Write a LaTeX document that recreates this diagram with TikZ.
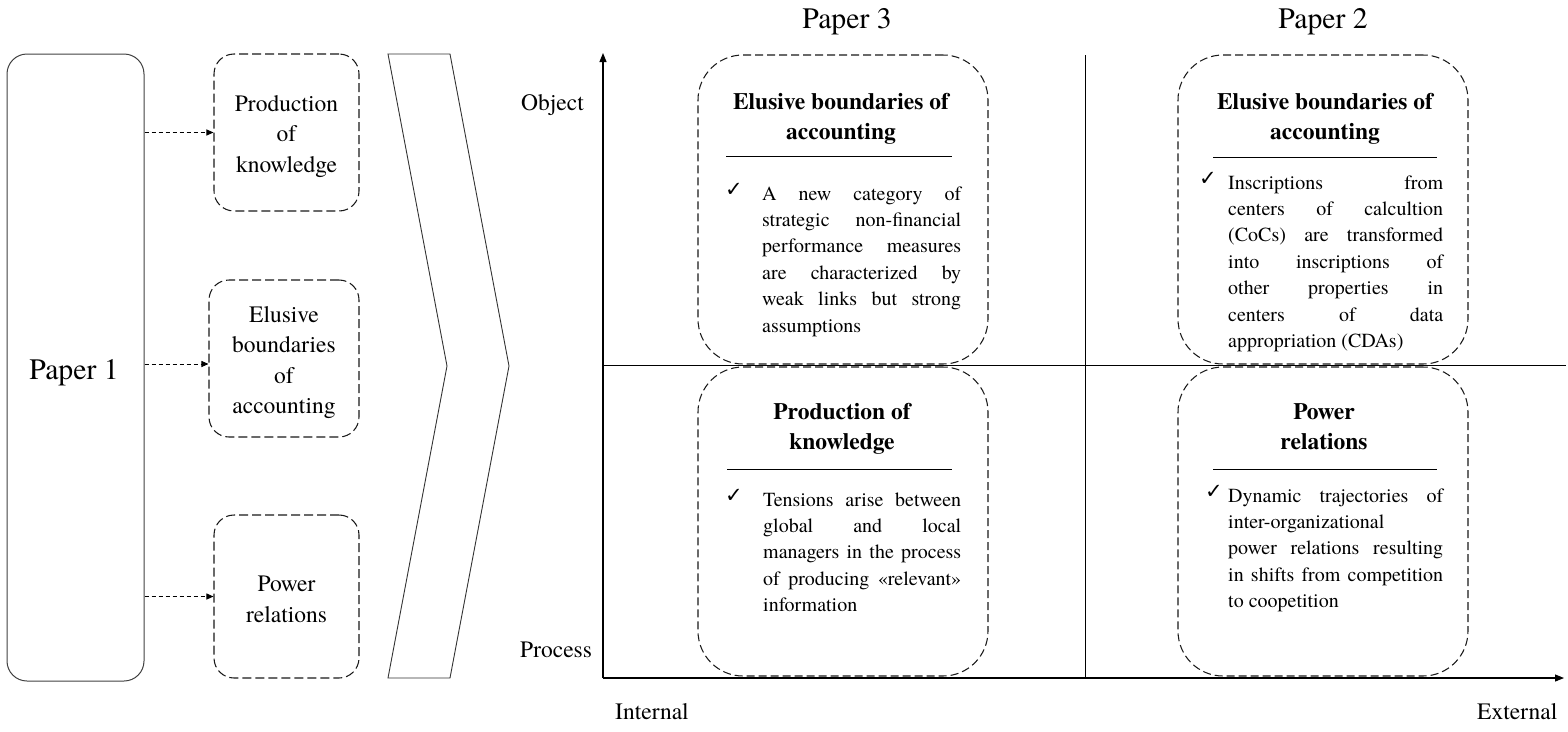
\documentclass[tikz,border=0pt]{standalone}
\usepackage{fontspec}
\setmainfont{TeX Gyre Termes}
\newfontfamily\checkfont{DejaVu Sans}
\usetikzlibrary{positioning,arrows.meta}
\tikzset{
  paper box/.style={
    draw=black!75,
    line width=1pt,
    rounded corners=20pt,
    minimum width=137pt,
    minimum height=627pt,
  },
  topic box/.style={
    draw=black!90,
    line width=1.05pt,
    dash pattern=on 9pt off 4pt,
    rounded corners=20pt,
    inner sep=0pt,
  },
  topic text/.style={
    align=center,
    inner sep=0pt,
    font=\fontsize{23.5}{30.5}\selectfont,
  },
  quad box/.style={
    draw=black!90,
    line width=1.05pt,
    dash pattern=on 8pt off 4pt,
    rounded corners=45pt,
    minimum width=290pt,
    minimum height=309pt,
  },
  link/.style={
    line width=0.9pt,
    dash pattern=on 4pt off 3pt,
    -{Triangle[length=7pt,width=6pt]},
  },
  axis/.style={
    line width=1.1pt,
    -{Triangle[length=9pt,width=7pt]},
  },
  title text/.style={
    anchor=base,
    align=center,
    inner sep=0pt,
    font=\fontsize{23.5}{30}\selectfont\bfseries,
  },
  body text/.style={
    anchor=base west,
    align=justify,
    inner sep=0pt,
    font=\fontsize{20}{26.4}\selectfont,
  },
  check sign/.style={
    anchor=base west,
    inner sep=0pt,
    font=\checkfont\fontsize{21}{21}\selectfont,
  },
  axis label/.style={
    anchor=base west,
    inner sep=0pt,
    font=\fontsize{23.5}{28}\selectfont,
  },
  head label/.style={
    anchor=base,
    inner sep=0pt,
    font=\fontsize{29.7}{34}\selectfont,
  },
}

\begin{document}
\begin{tikzpicture}[x=1pt,y=-1pt]
    \useasboundingbox (0,0) rectangle (1568,731);

    % first paper and its three themes
    \node [paper box] (paper1) at (75.5,367.5) {};
    \node [head label] (paper1text) at (74,379) {Paper 1};
    \node [topic box, minimum width=145pt, minimum height=157pt] (prod) at (286.5,132.5) {};
    \node [topic box, minimum width=150pt, minimum height=157pt] (elus) at (284,358.5) {};
    \node [topic box, minimum width=145pt, minimum height=163pt] (powr) at (286.5,596.5) {};
    \node [topic text] (prodtext) at ([yshift=-4pt]prod.center) {Production\\of\\knowledge};
    \node [topic text] (elustext) at ([yshift=-4pt]elus.center) {Elusive\\boundaries\\of\\accounting};
    \node [topic text] (powrtext) at ([yshift=-3pt]powr.center) {Power\\relations};
    \coordinate (elusin) at ([yshift=-5.5pt]elus.west);

    \draw [link] (paper1.east |- prod.west) -- (prod.west);
    \draw [link] (paper1.east |- elusin) -- (elusin);
    \draw [link] (paper1.east |- powr.west) -- (powr.west);

    % chevron
    \draw [line width=0.9pt, black!80] (388,54) -- (450,54) -- (509,366) -- (450,678) -- (388,678) -- (447,366) -- cycle;

    % matrix axes
    \coordinate (origin) at (603,678);
    \coordinate (ytop) at (603,53);
    \coordinate (xend) at (1564,678);
    \draw [axis] (origin) -- (ytop);
    \draw [axis] (origin) -- (xend);
    \draw [line width=1pt] (603,365) -- (1566,365);
    \draw [line width=1pt] (1085,55) -- (1085,678);

    \node [axis label] (obj) at (521,110) {Object};
    \node [axis label] (proc) at (520,657) {Process};
    \node [axis label] (int) at (615,719) {Internal};
    \node [axis label] (ext) at (1477,719) {External};
    \node [head label] (paper3) at (847,28) {Paper 3};
    \node [head label] (paper2) at (1323,28) {Paper 2};

    % quadrants
    \node [quad box] (q1) at (843,209.5) {};
    \node [quad box] (q2) at (1323,209.5) {};
    \node [quad box] (q3) at (843,521.5) {};
    \node [quad box] (q4) at (1323,521.5) {};

    \node [title text] at (841,139) {Elusive boundaries of\\accounting};
    \draw [line width=0.9pt] (726,156) -- (952,156);
    \node [check sign] at (725,196) {✓};
    \node [body text, text width=199pt] at (762,200) {A new category of\linebreak strategic non-financial\linebreak performance measures\linebreak are characterized by\linebreak weak links but strong\linebreak assumptions};

    \node [title text] at (1325,139) {Elusive boundaries of\\accounting};
    \draw [line width=0.9pt] (1213,157) -- (1437,157);
    \node [check sign] at (1199,185) {✓};
    \node [body text, text width=215pt] at (1228,189) {Inscriptions from\linebreak centers of calcultion\linebreak (CoCs) are transformed\linebreak into inscriptions of\linebreak other properties in\linebreak centers of data\linebreak appropriation (CDAs)};

    \node [title text] at (842,449) {Production of\\knowledge};
    \draw [line width=0.9pt] (727,469) -- (952,469);
    \node [check sign] at (725,502) {✓};
    \node [body text, text width=198pt] at (763,506) {Tensions arise between\linebreak global and local\linebreak managers in the process\linebreak of producing «relevant»\linebreak information};

    \node [title text] at (1324,449) {Power\\relations};
    \draw [line width=0.9pt] (1213,469) -- (1437,469);
    \node [check sign] at (1205,498) {✓};
    \node [body text, text width=215pt] at (1228,502) {Dynamic trajectories of\linebreak inter-organizational\\power relations resulting\linebreak in shifts from competition\linebreak to coopetition};
\end{tikzpicture}
\end{document}
